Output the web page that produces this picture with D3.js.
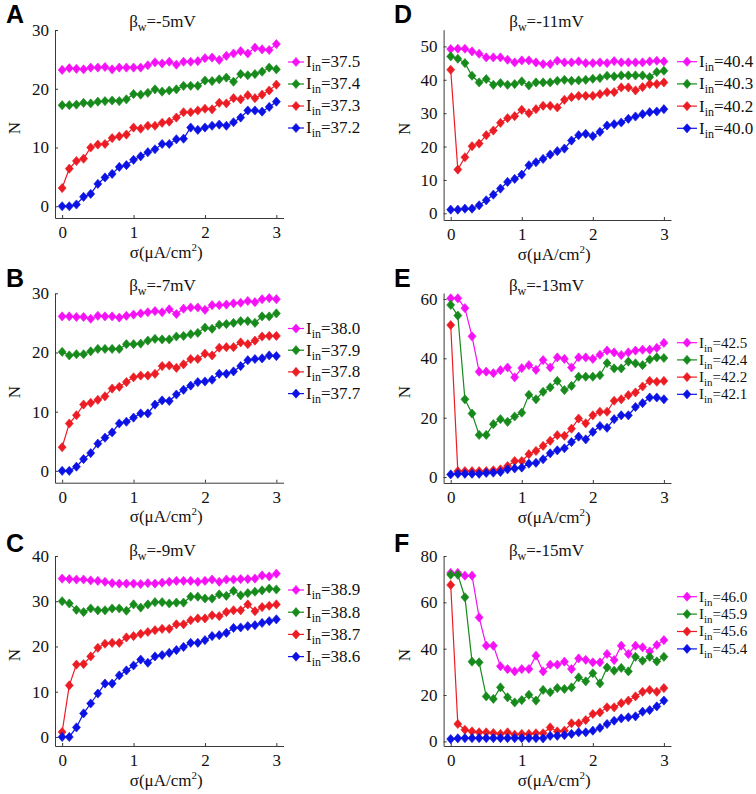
<!DOCTYPE html>
<html><head><meta charset="utf-8">
<script src="https://cdn.jsdelivr.net/npm/d3@7"></script>
<style>
html,body{margin:0;padding:0;background:#fff;}
svg{display:block;}
</style>
</head><body>
<svg id="chart" width="756" height="794"></svg>
<script>
// ---------- DATA ----------
const sigma = [0,0.1,0.2,0.3,0.4,0.5,0.6,0.7,0.8,0.9,1.0,1.1,1.2,1.3,1.4,1.5,1.6,1.7,1.8,1.9,2.0,2.1,2.2,2.3,2.4,2.5,2.6,2.7,2.8,2.9,3.0];
const xTicks = [0,1,2,3];

// Panel A (βw = -5mV)
const A_m = [23.2,23.5,23.4,23.3,23.6,23.6,23.7,23.3,23.6,23.6,23.6,23.6,24.0,24.5,24.3,24.6,24.1,24.6,24.6,24.7,25.2,25.3,24.9,25.6,26.0,26.4,26.0,27.0,26.7,26.6,27.6];
const A_g = [17.2,17.2,17.3,17.6,17.5,17.8,17.9,18.0,17.9,18.2,19.1,19.0,19.3,19.9,19.5,19.7,19.9,20.5,20.5,20.5,21.4,21.3,21.6,21.9,21.2,22.5,22.3,22.5,22.9,23.6,23.3];
const A_r = [3.1,6.4,7.7,8.1,10.0,10.5,10.6,11.6,11.9,12.2,13.4,13.2,13.7,13.7,14.2,14.4,15.1,16.0,16.0,16.3,16.6,16.5,17.6,17.5,18.4,18.2,18.9,18.4,19.0,19.7,20.7];
const A_b = [0,0,0.3,1.6,2.1,3.8,4.9,5.5,6.7,7.0,7.9,8.5,9.2,9.7,10.6,10.6,11.4,11.5,13.4,13.0,13.4,13.7,13.9,13.7,14.3,15.1,16.3,16.3,16.1,16.9,17.8];
const A_labels = ["37.5","37.4","37.3","37.2"];
const A_yTicks = [0,10,20,30];

// Panel B (βw = -7mV)
const B_m = [26.1,26.1,26.0,26.0,25.7,26.2,26.1,26.1,25.9,26.2,26.4,26.6,26.8,27.0,26.8,27.3,26.5,27.4,27.6,27.6,27.2,28.0,28.0,28.1,28.3,28.4,28.7,28.5,29.0,29.2,29.0];
const B_g = [20.1,19.5,19.7,19.7,20.2,20.6,20.6,20.6,20.6,21.4,21.4,21.5,22.0,22.3,22.2,22.2,22.7,22.8,23.1,23.3,24.2,24.0,24.7,24.8,25.0,25.3,25.3,25.0,26.1,26.1,26.6];
const B_r = [4.0,8.0,9.4,11.2,11.5,12.0,12.6,13.9,14.2,15.0,15.8,16.1,16.1,16.4,17.7,17.8,17.4,18.0,18.9,18.9,19.8,19.5,20.8,20.9,20.9,21.7,21.4,22.0,22.7,22.8,22.8];
const B_b = [0,0,0.7,2.0,3.0,4.6,5.6,6.5,8.0,8.3,9.0,9.7,9.7,11.2,11.9,11.8,12.9,13.7,14.4,15.0,15.1,15.4,16.4,16.4,16.8,17.7,18.7,18.9,19.0,19.5,19.4];
const B_labels = ["38.0","37.9","37.8","37.7"];
const B_yTicks = [0,10,20,30];

// Panel C (βw = -9mV)
const C_m = [35.0,34.9,34.8,34.8,34.6,34.5,34.3,34.0,33.9,33.9,33.9,33.8,34.0,33.9,34.1,34.3,34.5,34.5,34.5,34.3,34.5,34.8,34.3,34.8,34.8,34.9,34.9,35.0,35.7,35.5,36.1];
const C_g = [30.0,29.5,28.1,27.6,28.4,28.0,28.0,28.4,28.4,27.9,29.3,28.6,29.3,29.8,29.8,29.5,29.7,29.7,31.0,31.0,30.6,30.6,31.5,31.2,32.3,31.3,31.8,32.1,32.4,32.8,32.6];
const C_r = [1.1,11.4,16.0,16.1,17.8,19.7,20.6,20.8,20.8,22.0,22.3,22.8,23.2,23.6,23.9,23.9,24.9,24.9,25.8,26.2,26.2,26.9,26.7,27.6,28.0,28.0,29.3,27.8,28.7,29.0,29.3];
const C_b = [0,0,2.1,5.2,7.4,9.6,11.8,11.8,13.6,14.7,15.8,17.1,16.4,17.8,18.1,18.6,19.2,19.9,20.8,20.8,21.4,22.3,22.5,23.0,24.1,24.2,24.5,24.7,25.2,25.6,26.0];
const C_labels = ["38.9","38.8","38.7","38.6"];
const C_yTicks = [0,10,20,30,40];

// Panel D (βw = -11mV)
const D_m = [49.2,49.3,49.3,48.5,47.8,46.7,46.7,46.7,46.0,45.2,45.8,45.8,45.2,44.7,44.7,45.7,45.2,45.2,45.5,45.0,45.0,45.2,45.0,45.6,45.2,45.2,45.2,45.2,45.5,45.7,45.5];
const D_g = [47.0,46.3,45.0,41.2,39.2,40.2,38.5,39.0,38.5,38.7,39.5,38.3,39.2,39.2,39.2,39.7,40.0,39.7,39.8,40.0,40.3,40.5,41.2,41.0,41.3,41.3,41.3,41.3,40.8,42.3,42.7];
const D_r = [43.0,13.1,16.8,20.1,20.9,23.4,24.8,27.1,28.5,29.1,31.0,30.0,31.2,32.2,32.2,31.7,34.0,34.8,35.2,35.2,35.2,35.7,36.3,36.3,37.7,37.7,36.8,37.8,38.7,38.7,39.2];
const D_b = [1.1,1.1,1.4,1.4,2.4,3.9,5.6,7.4,9.4,10.3,11.6,14.4,15.3,16.3,17.6,18.6,19.4,21.8,23.4,23.8,23.1,24.4,26.3,26.7,27.2,28.3,29.0,29.7,30.3,30.5,31.2];
const D_labels = ["40.4","40.3","40.2","40.0"];
const D_yTicks = [0,10,20,30,40,50];

// Panel E (βw = -13mV)
const E_m = [60.2,60.2,56.9,47.4,35.5,35.5,35.0,36.0,36.9,33.6,36.7,37.7,36.1,39.4,36.9,40.3,39.8,36.9,40.3,40.3,39.8,41.2,42.6,42.0,41.1,42.0,42.6,42.9,42.9,43.5,45.2];
const E_g = [58.0,54.4,26.2,21.4,14.2,14.2,17.8,19.5,18.6,20.4,21.7,27.7,26.2,28.7,30.2,32.4,29.3,30.7,33.8,33.8,33.8,34.3,38.4,36.6,36.6,38.9,38.3,37.7,39.6,40.3,40.1];
const E_r = [51.2,2.0,2.0,2.0,2.0,2.0,2.3,2.6,3.7,5.4,5.4,7.7,8.8,10.5,12.2,14.1,13.9,16.3,19.7,18.1,20.8,22.0,22.0,25.7,26.2,27.6,28.5,30.5,32.4,32.1,32.4];
const E_b = [0.9,1.1,1.1,1.1,1.1,1.4,1.5,1.7,2.6,2.9,3.2,4.5,4.8,6.0,8.0,9.0,9.7,11.8,13.6,12.7,15.2,17.2,16.6,19.5,20.8,20.8,23.6,24.9,26.8,26.8,26.2];
const E_labels = ["42.5","42.4","42.2","42.1"];
const E_yTicks = [0,20,40,60];

// Panel F (βw = -15mV)
const F_m = [72.7,72.7,71.5,71.5,53.5,41.3,41.3,32.4,31.2,30.2,31.2,31.2,37.0,30.2,33.1,33.1,34.4,31.2,35.8,35.2,34.1,34.1,37.7,35.1,41.3,37.7,41.3,40.6,38.8,41.6,43.7];
const F_g = [71.9,71.9,62.2,34.4,34.1,19.4,18.3,23.3,19.0,16.8,17.8,20.1,17.6,22.2,21.2,23.0,22.6,23.3,27.6,25.9,29.4,25.0,31.9,30.5,31.7,30.2,36.5,34.8,36.5,34.5,36.5];
const F_r = [67.5,7.5,5.0,4.3,3.9,3.9,3.6,3.2,3.9,2.9,3.2,3.2,3.5,3.5,6.0,4.3,4.6,7.8,7.8,9.2,11.8,12.5,14.7,14.7,16.5,17.6,19.4,21.4,22.2,21.4,23.0];
const F_b = [1.0,1.3,1.4,1.4,1.4,1.4,1.4,1.4,1.4,1.4,1.4,1.4,1.4,1.3,2.4,2.4,2.7,3.2,3.9,3.9,4.6,5.8,7.5,8.9,9.9,10.4,10.8,12.8,13.5,15.1,17.6];
const F_labels = ["46.0","45.9","45.6","45.4"];
const F_yTicks = [0,20,40,60,80];

const betas = ["-5mV","-7mV","-9mV","-11mV","-13mV","-15mV"];
const letters = ["A","B","C","D","E","F"];

// ---------- STYLE / LAYOUT ----------
const colors = ["#f511f5","#178a1c","#ec1c24","#0c12e4"];
const serif = "'Liberation Serif','Times New Roman','DejaVu Serif',serif";
const axisColor = "#3a3a3a";

const panels = [
  {letter:letters[0], beta:betas[0], series:[A_m,A_g,A_r,A_b], labels:A_labels, yTicks:A_yTicks, yDom:[-2,30],
   xr:[55,283.5], yr:[218,30], side:"L", top:0, legY:62, legDy:22, legFs:17},
  {letter:letters[1], beta:betas[1], series:[B_m,B_g,B_r,B_b], labels:B_labels, yTicks:B_yTicks, yDom:[-2,30],
   xr:[55,283.5], yr:[482.7,293.3], side:"L", top:264, legY:328.5, legDy:21.7, legFs:17},
  {letter:letters[2], beta:betas[2], series:[C_m,C_g,C_r,C_b], labels:C_labels, yTicks:C_yTicks, yDom:[-2,40],
   xr:[55,283.5], yr:[746,556], side:"L", top:529, legY:590, legDy:22.2, legFs:17},
  {letter:letters[3], beta:betas[3], series:[D_m,D_g,D_r,D_b], labels:D_labels, yTicks:D_yTicks, yDom:[-2,55],
   xr:[443.6,671], yr:[220,29.7], side:"R", top:0, legY:61.7, legDy:22.2, legFs:17},
  {letter:letters[4], beta:betas[4], series:[E_m,E_g,E_r,E_b], labels:E_labels, yTicks:E_yTicks, yDom:[-2,62],
   xr:[443.6,671], yr:[483,293], side:"R", top:264, legY:342.7, legDy:17.2, legFs:15},
  {letter:letters[5], beta:betas[5], series:[F_m,F_g,F_r,F_b], labels:F_labels, yTicks:F_yTicks, yDom:[-2,80],
   xr:[443.6,671], yr:[746,556], side:"R", top:529, legY:596.7, legDy:17.4, legFs:15}
];

const svg = d3.select("#chart");

function diamond(sel, cx, cy, color){
  sel.append("path")
    .attr("d", `M${cx},${cy-4.6}L${cx+4},${cy}L${cx},${cy+4.6}L${cx-4},${cy}Z`)
    .attr("fill", color).attr("stroke", color).attr("stroke-width", 0.6);
}

panels.forEach(p => {
  const g = svg.append("g");
  const x = d3.scaleLinear().domain([-0.1, 3.1]).range(p.xr);
  const y = d3.scaleLinear().domain(p.yDom).range(p.yr);

  // axes
  const yAxis = d3.axisLeft(y).tickValues(p.yTicks).tickFormat(d3.format("d")).tickSizeInner(-3).tickSizeOuter(0).tickPadding(6);
  const xAxis = d3.axisBottom(x).tickValues(xTicks).tickFormat(d3.format("d")).tickSizeInner(-3).tickSizeOuter(0).tickPadding(8);

  const ya = g.append("g").attr("transform", `translate(${p.xr[0]},0)`).call(yAxis);
  const xa = g.append("g").attr("transform", `translate(0,${p.yr[0]})`).call(xAxis);
  [ya, xa].forEach(a => {
    a.attr("font-family", serif).attr("font-size", 17);
    a.select(".domain").attr("stroke", axisColor).attr("stroke-width", 1);
    a.selectAll(".tick line").attr("stroke", axisColor);
    a.selectAll(".tick text").attr("fill", "#111").style("font-family", serif).style("font-size", "17px");
  });

  // series
  const line = d3.line().x((d,i) => x(sigma[i])).y(d => y(d));
  p.series.forEach((vals, si) => {
    const col = colors[si];
    g.append("path").datum(vals).attr("d", line)
      .attr("fill", "none").attr("stroke", col).attr("stroke-width", 1.2);
    const pts = g.append("g");
    vals.forEach((v, i) => diamond(pts, x(sigma[i]), y(v), col));
  });

  // legend
  const lx0 = p.side === "L" ? 288 : 677;
  const lx1 = p.side === "L" ? 304 : 697;
  const fs = p.legFs;
  p.labels.forEach((lab, i) => {
    const ly = p.legY + i * p.legDy;
    const col = colors[i];
    g.append("line").attr("x1", lx0).attr("x2", lx1).attr("y1", ly).attr("y2", ly)
      .attr("stroke", col).attr("stroke-width", 1.2);
    diamond(g, (lx0 + lx1) / 2, ly, col);
    const t = g.append("text").attr("x", lx1 + 2).attr("y", ly + fs * 0.32)
      .style("font-family", serif).style("font-size", fs + "px").attr("fill", "#111");
    t.append("tspan").text("I");
    t.append("tspan").text("in").style("font-size", Math.round(fs * 0.7) + "px").attr("dy", 4);
    t.append("tspan").text("=" + lab).attr("dy", -4);
  });

  // title
  const tcx = p.side === "L" ? 162.5 : 546.5;
  const tt = g.append("text").attr("x", tcx).attr("y", p.top + 27).attr("text-anchor", "middle")
    .style("font-family", serif).style("font-size", "17px").attr("fill", "#111");
  tt.append("tspan").text("β");
  tt.append("tspan").text("w").style("font-size", "12px").attr("dy", 4);
  tt.append("tspan").text("=" + p.beta).attr("dy", -4);

  // x label
  const xl = g.append("text").attr("x", (p.xr[0] + p.xr[1]) / 2 - 3).attr("y", p.yr[0] + 39.5)
    .attr("text-anchor", "middle").style("font-family", serif).style("font-size", "17px").attr("fill", "#111");
  xl.append("tspan").text("σ(μA/cm");
  xl.append("tspan").text("2").style("font-size", "11px").attr("dy", -7);
  xl.append("tspan").text(")").attr("dy", 7);

  // y label
  const ylx = p.side === "L" ? 20 : 410;
  g.append("text").attr("transform", `translate(${ylx},${(p.yr[0] + p.yr[1]) / 2 + 4}) rotate(-90)`)
    .attr("text-anchor", "middle").style("font-family", serif).style("font-size", "17px").attr("fill", "#111")
    .text("N");

  // panel letter
  const lcx = p.side === "L" ? 6 : 394;
  g.append("text").attr("x", lcx).attr("y", p.top + 23)
    .style("font-family", "'Liberation Sans',Arial,sans-serif").style("font-weight", "bold").style("font-size", "25px")
    .attr("fill", "#000").text(p.letter);
});
</script>
</body></html>
